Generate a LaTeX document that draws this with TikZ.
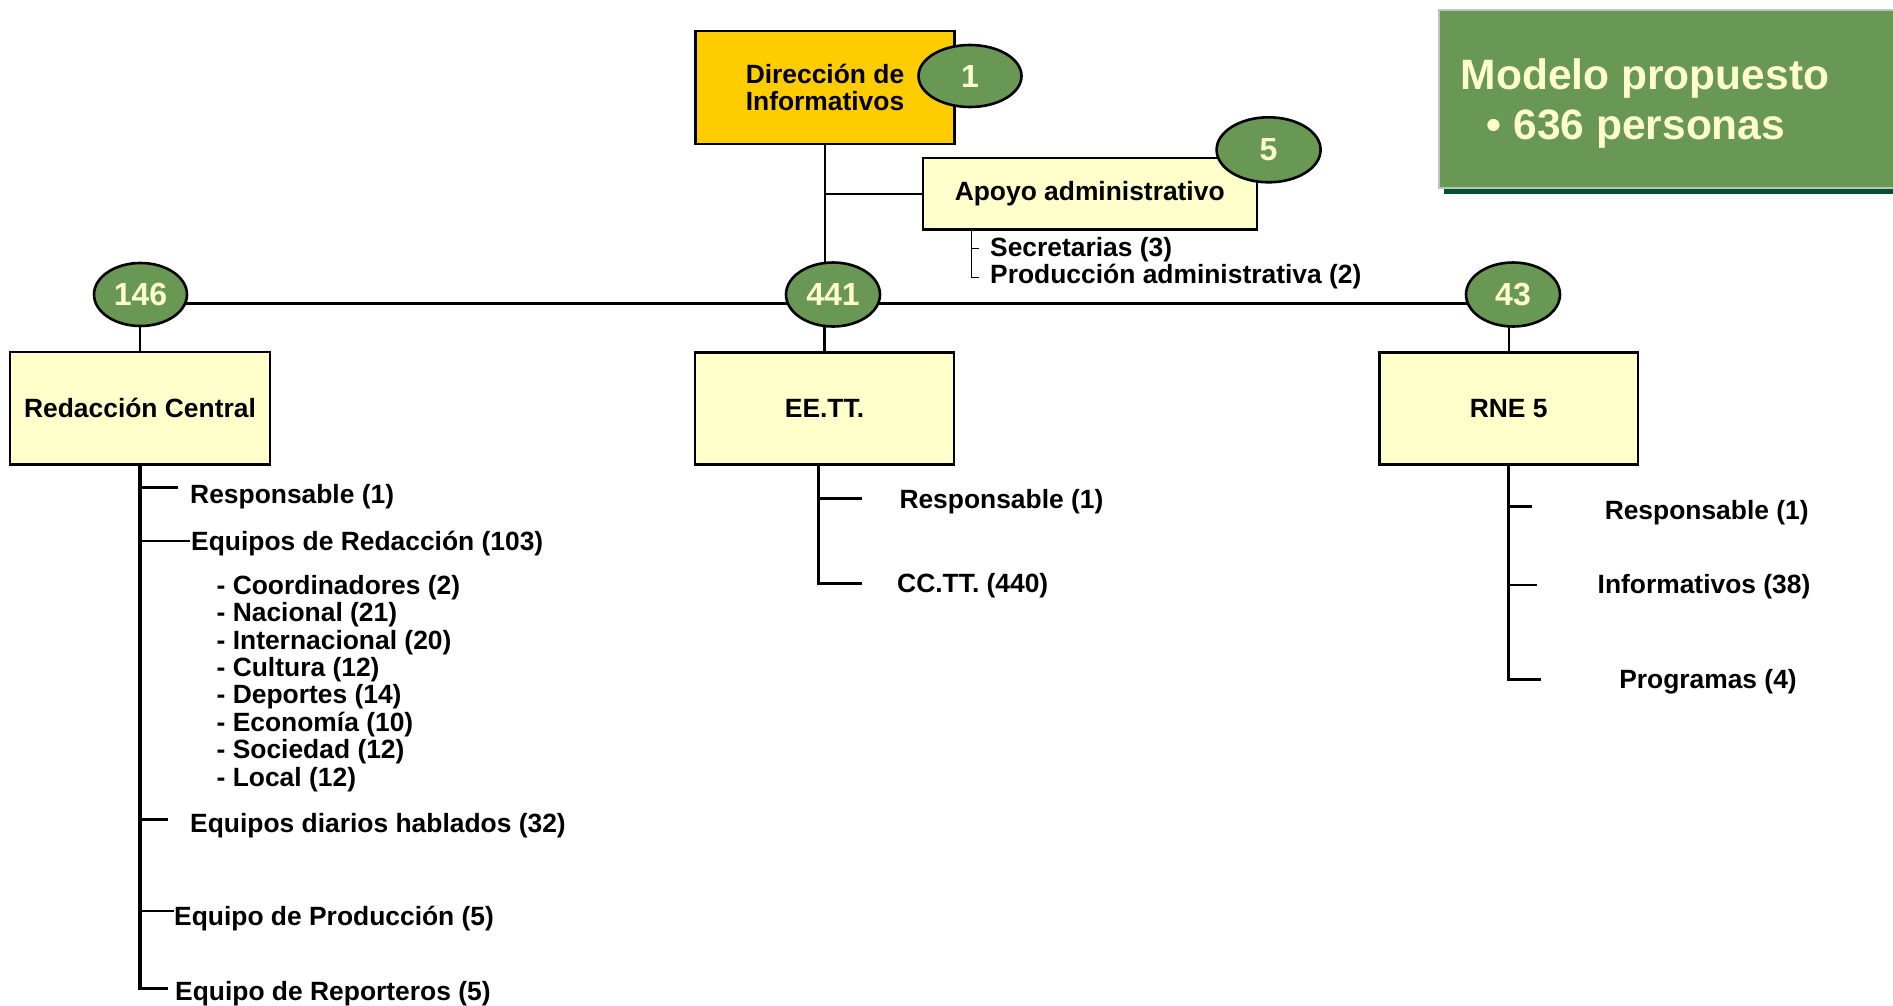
\documentclass[tikz,border=0pt]{standalone}
\usepackage{fontspec}
\setmainfont{Liberation Sans}
\usetikzlibrary{shapes.geometric}
\definecolor{ogreen}{RGB}{104,152,84}
\definecolor{dgreen}{RGB}{0,82,42}
\definecolor{lyel}{RGB}{255,255,204}
\definecolor{gold}{RGB}{255,204,0}
\definecolor{tgray}{RGB}{192,192,192}
\pgfdeclarelayer{bg}
\pgfsetlayers{bg,main}
\begin{document}
\begin{tikzpicture}[x=1pt,y=-1pt,
  orgbox/.style={draw=black,line width=2.4pt,rectangle,inner sep=0pt,align=center,font=\fontsize{26.4}{26.7}\selectfont\bfseries},
  num/.style={ellipse,draw=black,line width=2.6pt,fill=ogreen,text=lyel,inner sep=0pt,font=\fontsize{32}{32}\selectfont\bfseries},
  item/.style={inner sep=0pt,anchor=base west,font=\fontsize{26.4}{26.4}\selectfont\bfseries},
  citem/.style={inner sep=0pt,anchor=base,font=\fontsize{26.4}{26.4}\selectfont\bfseries},
  ttl/.style={inner sep=0pt,anchor=base west,text=lyel,font=\fontsize{42.5}{42.5}\selectfont\bfseries},
  conn/.style={line width=2.4pt},
  thinconn/.style={line width=1.5pt},
  thickconn/.style={line width=3.4pt},
]
\useasboundingbox (0,0) rectangle (1893,1006);

% title panel
\fill[dgreen] (1444,15) rectangle (1900,193.5);
\node[rectangle,fill=ogreen,draw=tgray,line width=2pt,minimum width=461pt,minimum height=178pt,inner sep=0pt] (title) at (1669.5,99) {};
\node[ttl] (t1) at (1460.7,89.5) {Modelo propuesto};
\node[ttl] (t2) at (1486.7,139.5) {• 636 personas};

% top boxes
\node[orgbox,fill=gold,minimum width=259pt,minimum height=113pt] (dir) at (825,87.4) {Dirección de\\Informativos};
\node[num,minimum width=103pt,minimum height=62pt] (n1) at (970,76) {1};
\node[orgbox,fill=lyel,minimum width=334pt,minimum height=71pt] (apo) at (1089.7,193.8) {\raisebox{-1.5pt}{Apoyo administrativo}};
\node[num,minimum width=104pt,minimum height=65pt] (n5) at (1268.6,149.8) {5};

% count ellipses
\node[num,minimum width=93pt,minimum height=63pt] (n146) at (140.5,294.5) {146};
\node[num,minimum width=94pt,minimum height=64pt] (n441) at (833,294.5) {441};
\node[num,minimum width=94pt,minimum height=64pt] (n43) at (1513,294.5) {43};

% unit boxes
\node[orgbox,fill=lyel,minimum width=259.5pt,minimum height=112.6pt] (red) at (140,408) {Redacción Central};
\node[orgbox,fill=lyel,minimum width=259pt,minimum height=112pt] (ee) at (824.5,408.3) {EE.TT.};
\node[orgbox,fill=lyel,minimum width=258.6pt,minimum height=112pt] (rne) at (1508.7,408.3) {RNE 5};

% apoyo items
\node[item] (sec) at (990,256) {Secretarias (3)};
\node[item] (pad) at (990,283.5) {Producción administrativa (2)};

% Redaccion items
\node[item] (rr1) at (190,503.3) {Responsable (1)};
\node[item] (rr2) at (191,550) {Equipos de Redacción (103)};
\node[item] (s1) at (216.5,594.3) {- Coordinadores (2)};
\node[item] (s2) at (216.5,621.7) {- Nacional (21)};
\node[item] (s3) at (216.5,649.1) {- Internacional (20)};
\node[item] (s4) at (216.5,676.5) {- Cultura (12)};
\node[item] (s5) at (216.5,703.9) {- Deportes (14)};
\node[item] (s6) at (216.5,731.3) {- Economía (10)};
\node[item] (s7) at (216.5,758.7) {- Sociedad (12)};
\node[item] (s8) at (216.5,786.1) {- Local (12)};
\node[item] (rr3) at (190,832.6) {Equipos diarios hablados (32)};
\node[item] (rr4) at (174,925.3) {Equipo de Producción (5)};
\node[item] (rr5) at (175,1000.5) {Equipo de Reporteros (5)};

% EE.TT. items
\node[item] (er1) at (899.3,508.6) {Responsable (1)};
\node[item] (er2) at (897,592.6) {CC.TT. (440)};

% RNE items
\node[citem] (qr1) at (1706.7,519.3) {Responsable (1)};
\node[citem] (qr2) at (1704,593.6) {Informativos (38)};
\node[citem] (qr3) at (1708,688.6) {Programas (4)};

% helper coordinates
\coordinate (hl) at (0,303.3);
\coordinate (rb) at (140,988.5);
\coordinate (rbe) at (168.3,988.5);
\coordinate (r1) at (178,487.3);
\coordinate (r2) at (190,540.7);
\coordinate (r3) at (167.6,819.3);
\coordinate (r4) at (174,910.7);
\coordinate (eb) at (818.3,583.3);
\coordinate (ebe) at (861.7,583.3);
\coordinate (e1) at (861.7,498.3);
\coordinate (qb) at (1508.7,679.3);
\coordinate (qbe) at (1540.8,679.3);
\coordinate (q1) at (1532.3,506.7);
\coordinate (q2) at (1537.4,585);
\coordinate (ab) at (971.7,277.7);
\coordinate (abe) at (979,277.7);
\coordinate (a1) at (979,248.3);

\begin{pgfonlayer}{bg}
\fill[white] (0,0) rectangle (1893,1006);
\draw[conn] (dir.south) -- (dir.south |- n441.center);
\draw[conn] (dir.south |- apo.west) -- (apo.west);
\draw[conn] (n146 |- hl) -- (n43 |- hl);
\draw[conn] (red.north) -- (red.north |- n146.center);
\draw[conn] (ee.north) -- (ee.north |- n441.center);
\draw[conn] (rne.north) -- (rne.north |- n43.center);
% apoyo bracket
\draw[thinconn] (apo.south -| ab) -- (ab) -- (abe);
\draw[thinconn] (ab |- a1) -- (a1);
% redaccion branch
\draw[thickconn] (red.south) -- (rb) -- (rbe);
\draw[conn] (rb |- r1) -- (r1);
\draw[conn] (rb |- r2) -- (r2);
\draw[conn] (rb |- r3) -- (r3);
\draw[conn] (rb |- r4) -- (r4);
% ee branch
\draw[conn] (ee.south -| eb) -- (eb) -- (ebe);
\draw[conn] (eb |- e1) -- (e1);
% rne branch
\draw[line width=2.6pt] (rne.south) -- (qb) -- (qbe);
\draw[line width=2.6pt] (qb |- q1) -- (q1);
\draw[line width=2.6pt] (qb |- q2) -- (q2);
\end{pgfonlayer}
\end{tikzpicture}
\end{document}
